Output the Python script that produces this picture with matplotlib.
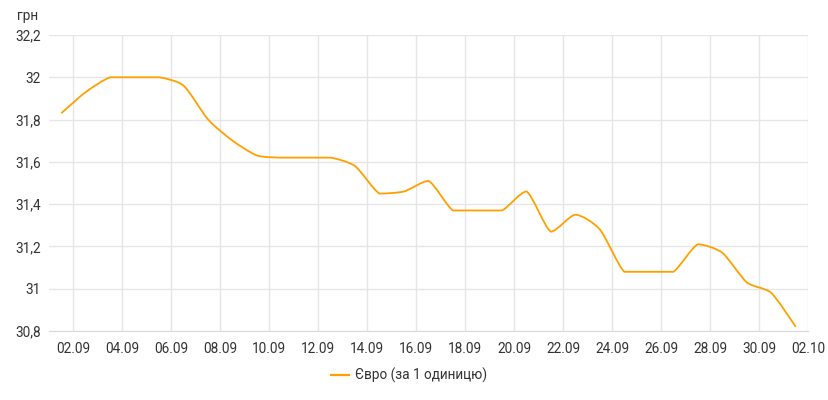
import numpy as np
import pandas as pd
import matplotlib.pyplot as plt
import matplotlib.dates as mdates
from matplotlib.path import Path
from matplotlib.patches import PathPatch
from matplotlib.ticker import FixedLocator, FuncFormatter

plt.rcParams['font.family'] = ['Roboto', 'DejaVu Sans']

# курс євро, грн (за 1 одиницю), 01.09 - 01.10
dates = pd.date_range('2021-09-01 12:00', periods=31, freq='D')
rates = [31.83, 31.93, 32.00, 32.00, 32.00, 31.96, 31.80, 31.70, 31.63, 31.62,
         31.62, 31.62, 31.58, 31.45, 31.46, 31.51, 31.37, 31.37, 31.37, 31.46,
         31.27, 31.35, 31.28, 31.08, 31.08, 31.08, 31.21, 31.17, 31.03, 30.98,
         30.82]
y_ticks = [30.8, 31.0, 31.2, 31.4, 31.6, 31.8, 32.0, 32.2]
series_name = 'Євро (за 1 одиницю)'

text_col = '#333333'
grid_col = '#e6e6e6'
line_col = '#ffa000'


def smooth_path(x, y, k=0.12):
    """кубічні криві Безьє через точки (без виходу за межі сегмента)"""
    n = len(x)
    verts = [(x[0], y[0])]
    codes = [Path.MOVETO]
    for i in range(n - 1):
        x0, y0 = x[max(i - 1, 0)], y[max(i - 1, 0)]
        x3, y3 = x[min(i + 2, n - 1)], y[min(i + 2, n - 1)]
        lo, hi = min(y[i], y[i + 1]), max(y[i], y[i + 1])
        c1 = (x[i] + (x[i + 1] - x0) * k, np.clip(y[i] + (y[i + 1] - y0) * k, lo, hi))
        c2 = (x[i + 1] - (x3 - x[i]) * k, np.clip(y[i + 1] - (y3 - y[i]) * k, lo, hi))
        verts += [c1, c2, (x[i + 1], y[i + 1])]
        codes += [Path.CURVE4] * 3
    return Path(verts, codes)


fig = plt.figure(figsize=(8.29, 4.0), dpi=100)
ax = fig.add_axes([49 / 829, 1 - 331 / 400, (808 - 49) / 829, (331 - 35) / 400])

xs = mdates.date2num(dates)
ax.add_patch(PathPatch(smooth_path(xs, rates), facecolor='none', edgecolor=line_col,
                       linewidth=1.3, zorder=3))
ax.plot([], [], color=line_col, linewidth=1.6, label=series_name)

ax.set_xlim(pd.Timestamp('2021-09-01'), pd.Timestamp('2021-10-02'))
ax.set_ylim(30.8, 32.2)

ax.xaxis.set_major_locator(FixedLocator(mdates.date2num(
    pd.date_range('2021-09-02', '2021-10-02', freq='2D'))))
ax.xaxis.set_major_formatter(mdates.DateFormatter('%d.%m'))
ax.yaxis.set_major_locator(FixedLocator(y_ticks))
ax.yaxis.set_major_formatter(FuncFormatter(
    lambda v, p: ('%.1f' % v).rstrip('0').rstrip('.').replace('.', ',')))

ax.grid(True, color=grid_col, linewidth=1)
ax.set_axisbelow(True)
for s in ['top', 'right', 'left']:
    ax.spines[s].set_visible(False)
ax.spines['bottom'].set_color('#d9d9d9')
ax.tick_params(axis='both', length=0, labelsize=9.8, colors=text_col)
ax.tick_params(axis='x', pad=8)
ax.tick_params(axis='y', pad=6)

fig.text(17 / 829, 1 - 16 / 400, 'грн', fontsize=9.8, color=text_col, va='center')

fig.legend(loc='center', bbox_to_anchor=(409 / 829, 1 - 375 / 400), frameon=False,
           fontsize=9.8, handlelength=1.3, handletextpad=0.4, labelcolor=text_col)

fig.savefig('out.png', dpi=100)
plt.close(fig)
